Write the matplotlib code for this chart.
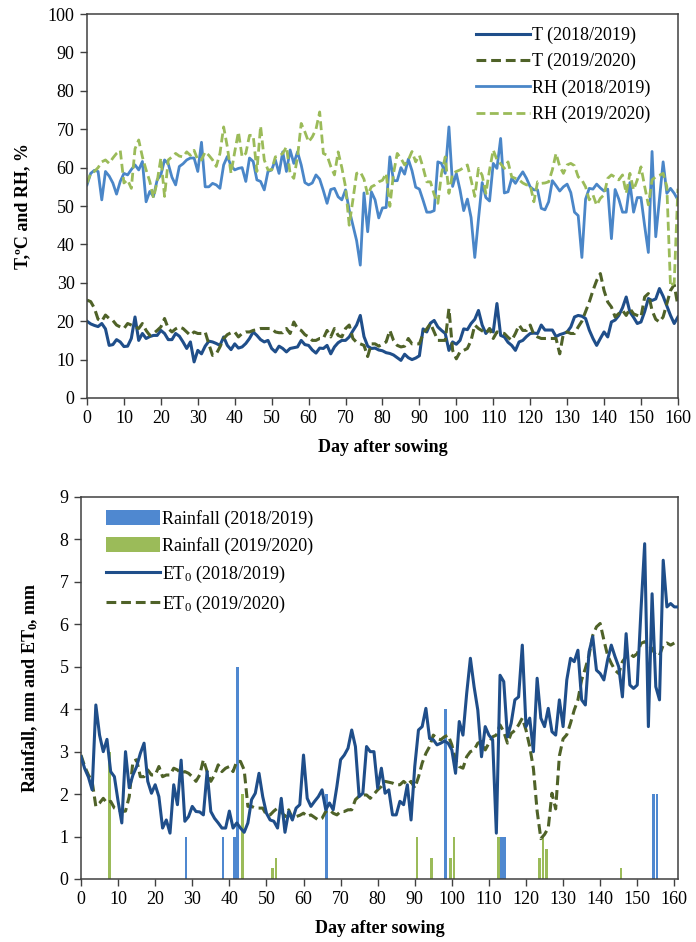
import numpy as np
import matplotlib
matplotlib.use("Agg")
import matplotlib.pyplot as plt

plt.rcParams['font.family'] = ['Liberation Serif', 'DejaVu Serif']
plt.rcParams['mathtext.fontset'] = 'custom'
plt.rcParams['mathtext.rm'] = 'Liberation Serif'
plt.rcParams['mathtext.it'] = 'Liberation Serif:italic'
plt.rcParams['mathtext.bf'] = 'Liberation Serif:bold'

# ---- top panel: daily temperature and relative humidity (day 0..160)
t_2018 = [20.0, 19.3, 18.9, 18.6, 19.4, 18.0, 13.7, 13.9, 15.2, 14.6,
          13.4, 13.5, 15.5, 21.1, 15.0, 16.8, 15.5, 16.0, 16.3, 16.3,
          17.6, 16.8, 15.2, 15.2, 16.8, 16.1, 14.6, 12.9, 14.6, 9.4,
          12.4, 11.5, 13.5, 14.8, 14.6, 14.2, 13.7, 15.9, 13.7, 12.6,
          14.1, 13.0, 13.3, 14.2, 15.5, 17.2, 16.3, 15.2, 14.6, 15.0,
          12.9, 12.0, 13.5, 12.9, 12.0, 12.9, 13.1, 13.3, 15.0, 13.9,
          13.7, 12.5, 11.7, 13.0, 12.9, 13.7, 11.5, 13.3, 14.4, 15.0,
          15.0, 15.9, 17.5, 19.0, 21.5, 16.0, 13.5, 12.9, 13.0, 12.5,
          12.3, 11.8, 11.6, 11.2, 10.5, 9.8, 11.4, 10.5, 10.0, 10.4,
          11.0, 18.0, 17.2, 19.5, 20.2, 18.5, 17.6, 16.8, 12.4, 14.6,
          14.0, 15.0, 18.0, 17.8, 19.4, 20.5, 22.8, 19.0, 16.8, 18.0,
          17.2, 24.6, 16.3, 15.9, 14.5, 13.7, 12.4, 14.6, 15.0, 16.0,
          16.8, 16.9, 16.8, 19.0, 17.7, 17.7, 17.7, 16.0, 16.5, 16.8,
          17.2, 18.5, 21.1, 21.5, 21.3, 20.7, 17.7, 15.5, 13.7, 15.5,
          17.2, 15.9, 19.8, 20.3, 21.5, 23.5, 26.3, 22.4, 21.0, 19.4,
          19.8, 22.5, 25.9, 25.4, 25.8, 28.5, 26.5, 24.0, 21.5, 19.4,
          21.1]

t_2019 = [25.5, 25.1, 23.4, 20.5, 20.0, 21.6, 20.7, 20.2, 19.0, 18.5,
          18.1, 19.4, 19.0, 18.6, 18.1, 19.4, 17.6, 16.3, 16.8, 17.6,
          18.5, 20.7, 18.1, 17.2, 18.0, 18.5, 18.1, 17.2, 16.3, 17.2,
          16.8, 16.8, 17.2, 14.0, 11.1, 11.5, 13.3, 15.5, 16.5, 17.0,
          17.2, 15.9, 16.8, 17.2, 17.2, 17.6, 17.8, 18.1, 18.1, 18.1,
          18.1, 17.2, 17.0, 17.0, 18.1, 16.8, 19.8, 18.1, 17.6, 16.5,
          15.9, 15.0, 15.0, 15.5, 15.5, 17.6, 15.9, 18.1, 16.3, 15.9,
          18.1, 19.0, 15.5, 14.5, 14.1, 13.7, 10.8, 14.1, 14.1, 13.5,
          14.0, 14.6, 17.6, 15.0, 13.7, 13.3, 13.5, 15.5, 14.1, 14.1,
          14.1, 16.8, 18.0, 19.4, 17.2, 15.0, 15.0, 15.0, 23.3, 12.4,
          10.2, 12.0, 12.4, 12.9, 15.0, 19.0, 18.1, 17.5, 16.8, 18.1,
          15.5, 17.2, 17.0, 16.8, 15.8, 15.0, 16.8, 19.0, 17.6, 17.6,
          19.0, 16.5, 15.9, 15.5, 15.5, 15.5, 15.5, 15.5, 11.5, 16.8,
          17.2, 16.8, 16.8, 18.5, 20.0, 22.5, 25.0, 28.0, 30.6, 32.4,
          28.0, 25.0, 23.7, 21.1, 22.0, 22.8, 21.5, 23.3, 21.9, 21.5,
          21.1, 26.3, 27.2, 22.8, 20.5, 19.8, 21.1, 24.5, 28.0, 29.5,
          24.0]

rh_2018 = [55.5, 58.5, 59.3, 59.0, 51.6, 59.0, 57.8, 56.0, 53.1, 56.4,
           58.5, 58.1, 59.5, 60.7, 59.4, 61.6, 51.1, 53.8, 52.5, 56.8,
           58.1, 62.0, 61.0, 57.5, 55.5, 60.3, 61.0, 62.0, 62.5, 62.5,
           59.0, 66.6, 55.0, 55.0, 55.9, 55.5, 54.6, 60.7, 62.9, 60.5,
           59.4, 59.8, 60.0, 56.4, 62.5, 61.6, 56.8, 56.4, 54.2, 59.0,
           59.4, 62.0, 58.5, 64.1, 59.0, 64.6, 61.1, 64.1, 60.7, 56.1,
           55.5, 56.0, 58.1, 57.0, 54.0, 50.7, 54.3, 54.6, 52.4, 51.6,
           54.2, 49.0, 45.0, 41.0, 34.6, 53.4, 43.3, 53.7, 51.6, 46.9,
           49.5, 49.6, 62.8, 56.6, 56.6, 60.0, 58.3, 62.2, 59.2, 54.9,
           54.4, 51.5, 48.4, 48.4, 48.8, 61.5, 61.1, 58.5, 70.6, 55.1,
           58.5, 54.2, 48.8, 51.8, 47.0, 36.6, 46.6, 56.1, 52.2, 51.3,
           61.1, 59.8, 67.6, 53.4, 53.7, 57.2, 55.9, 57.5, 58.9, 57.2,
           55.0, 54.2, 54.2, 49.4, 49.0, 51.1, 56.6, 55.3, 53.9, 55.0,
           55.7, 53.5, 48.4, 47.5, 36.6, 51.8, 54.6, 54.4, 55.7, 54.7,
           53.9, 54.4, 41.5, 54.3, 51.8, 48.4, 48.4, 56.1, 48.4, 52.2,
           52.2, 44.8, 37.9, 64.2, 42.0, 51.8, 61.5, 53.3, 54.6, 53.3,
           51.6]

rh_2019 = [56.0, 58.5, 59.0, 60.0, 61.5, 62.0, 61.1, 62.5, 63.7, 64.5,
           56.0, 56.8, 54.6, 64.9, 67.2, 62.8, 59.4, 56.4, 52.1, 56.4,
           62.5, 52.5, 62.0, 62.8, 63.7, 63.0, 62.8, 64.1, 63.2, 64.5,
           62.0, 62.0, 64.1, 63.2, 62.0, 60.3, 63.7, 70.6, 65.4, 58.5,
           64.1, 69.3, 62.8, 63.7, 68.4, 68.4, 59.0, 70.8, 62.0, 59.4,
           59.4, 62.8, 63.0, 63.7, 65.4, 58.5, 57.2, 62.8, 71.5, 69.3,
           66.7, 68.0, 70.0, 74.5, 63.7, 63.2, 60.3, 58.1, 64.1, 60.0,
           55.0, 45.0, 51.6, 58.5, 58.9, 57.0, 52.9, 55.0, 55.5, 56.3,
           56.7, 58.5, 49.9, 58.5, 63.7, 62.4, 60.7, 62.0, 64.2, 61.5,
           63.2, 60.0, 56.3, 56.3, 53.0, 50.7, 58.5, 62.8, 53.3, 58.5,
           59.0, 59.4, 60.0, 60.7, 56.8, 52.5, 59.8, 58.0, 53.3, 59.4,
           64.6, 62.0, 61.0, 59.8, 61.5, 57.6, 57.2, 56.8, 56.0, 55.5,
           55.5, 51.1, 56.3, 55.9, 56.0, 56.3, 59.4, 63.7, 60.3, 58.5,
           60.7, 61.1, 60.5, 57.6, 56.8, 55.0, 51.6, 52.9, 50.2, 52.0,
           52.9, 57.2, 58.1, 57.5, 56.8, 58.1, 53.3, 58.5, 54.2, 56.8,
           60.2, 55.1, 50.3, 56.8, 57.6, 58.0, 58.5, 55.1, 29.0, 30.0,
           54.5]

# ---- bottom panel: reference evapotranspiration (ET0) and rainfall
et0_2018 = [2.88, 2.60, 2.40, 2.10, 4.10, 3.39, 3.00, 3.29, 2.53, 2.41,
            1.83, 1.32, 3.00, 2.15, 2.45, 2.65, 2.96, 3.20, 2.30, 2.02,
            2.22, 1.94, 1.20, 1.39, 1.08, 2.22, 1.75, 2.80, 1.36, 1.47,
            1.71, 1.59, 1.58, 1.51, 2.53, 1.59, 1.43, 1.32, 1.20, 1.20,
            1.60, 1.20, 1.32, 1.20, 1.10, 1.32, 1.87, 2.02, 2.49, 1.94,
            1.55, 1.39, 1.36, 1.20, 1.90, 1.10, 1.59, 1.39, 1.67, 1.75,
            2.92, 1.90, 1.71, 1.83, 1.94, 2.10, 1.63, 1.79, 1.63, 2.18,
            2.81, 2.92, 3.08, 3.51, 3.12, 1.94, 2.02, 3.12, 3.00, 3.00,
            2.14, 2.61, 2.02, 2.10, 1.51, 1.51, 1.83, 1.75, 2.22, 1.39,
            2.65, 3.51, 3.59, 4.02, 3.31, 3.28, 3.16, 3.20, 3.25, 3.20,
            3.04, 2.49, 3.71, 3.39, 4.37, 5.20, 4.53, 3.98, 2.88, 3.59,
            3.39, 3.28, 1.08, 4.80, 4.65, 3.35, 3.67, 4.22, 4.29, 5.51,
            3.59, 3.79, 3.00, 4.73, 3.79, 3.59, 4.02, 3.47, 3.39, 4.22,
            3.59, 4.69, 5.20, 5.12, 5.39, 4.22, 4.10, 5.35, 5.71, 4.92,
            4.84, 4.69, 5.16, 5.51, 5.24, 5.00, 4.29, 5.78, 4.57, 4.49,
            4.57, 6.33, 7.90, 3.59, 6.72, 4.53, 4.22, 7.51, 6.41, 6.49,
            6.41, 6.41]

et0_2019 = [2.92, 2.65, 2.45, 2.30, 1.71, 1.79, 1.90, 1.79, 1.83, 1.67,
            1.63, 1.59, 1.60, 1.94, 2.77, 2.81, 2.41, 2.41, 2.57, 2.45,
            2.45, 2.65, 2.41, 2.45, 2.45, 2.61, 2.57, 2.49, 2.53, 2.49,
            2.41, 2.30, 2.45, 2.81, 2.53, 2.30, 2.45, 2.69, 2.53, 2.61,
            2.65, 2.53, 2.77, 2.77, 2.57, 1.71, 1.71, 1.67, 1.67, 1.67,
            1.51, 1.51, 1.60, 1.67, 1.59, 1.47, 1.63, 1.43, 1.47, 1.50,
            1.55, 1.47, 1.51, 1.45, 1.39, 1.43, 1.59, 1.63, 1.55, 1.51,
            1.59, 1.59, 1.63, 1.63, 1.87, 1.95, 1.98, 1.98, 1.90, 2.00,
            2.10, 2.18, 2.30, 2.28, 2.26, 2.22, 2.22, 2.30, 2.22, 2.30,
            2.14, 2.40, 2.73, 2.96, 3.12, 3.39, 3.31, 3.28, 3.35, 3.39,
            3.16, 2.81, 2.65, 2.61, 2.88, 3.00, 3.04, 3.20, 3.24, 3.04,
            3.20, 3.35, 3.39, 3.63, 3.47, 3.20, 3.43, 3.50, 3.63, 3.79,
            3.51, 3.12, 2.60, 1.60, 0.95, 1.05, 1.20, 2.02, 1.65, 2.90,
            3.30, 3.40, 3.67, 3.98, 4.22, 4.69, 4.96, 5.27, 5.74, 5.94,
            6.02, 5.63, 5.27, 5.08, 4.92, 4.84, 5.12, 5.24, 5.31, 5.24,
            5.31, 5.55, 5.59, 5.51, 5.43, 5.27, 5.27, 5.51, 5.56, 5.51,
            5.56]

rain_2018_days = [28, 38, 41, 42, 66, 98, 113, 114, 154, 155]
rain_2018_mm = [1.0, 1.0, 1.0, 5.0, 2.0, 4.0, 1.0, 1.0, 2.0, 2.0]
rain_2019_days = [7, 43, 51, 52, 90, 94, 99, 100, 112, 123, 124, 125, 145]
rain_2019_mm = [3.0, 2.0, 0.25, 0.5, 1.0, 0.5, 0.5, 1.0, 1.0, 0.5, 1.0, 0.7, 0.25]

navy = '#1f4e8a'
olive = '#4f6228'
mid_blue = '#4a86c8'
light_green = '#9bbb59'
bar_blue = '#4f88d0'
axis_col = '#404040'
FS = 13


def style_axes(ax):
    for s in ax.spines.values():
        s.set_color(axis_col)
        s.set_linewidth(1.1)
    ax.tick_params(direction='out', length=5, width=1.0, color=axis_col,
                   labelsize=FS, pad=4)


fig = plt.figure(figsize=(6.96, 9.42), dpi=100)

# ---------------- top chart
ax1 = fig.add_axes([0.125, 0.5775, 0.849, 0.4076])
days = np.arange(len(t_2018))
ax1.plot(days, t_2018, color=navy, lw=2.2, label='T (2018/2019)')
ax1.plot(days, t_2019, color=olive, lw=2.2, ls=(0, (3.2, 1.6)), label='T (2019/2020)')
ax1.plot(days, rh_2018, color=mid_blue, lw=2.0, label='RH (2018/2019)')
ax1.plot(days, rh_2019, color=light_green, lw=2.0, ls=(0, (3.2, 1.6)), label='RH (2019/2020)')
ax1.set_xlim(0, 160)
ax1.set_ylim(0, 100)
ax1.set_xticks(np.arange(0, 161, 10))
ax1.set_yticks(np.arange(0, 101, 10))
style_axes(ax1)
ax1.set_xlabel('Day after sowing', fontsize=FS, fontweight='bold', labelpad=8)
ax1.set_ylabel('T,ºC and RH, %', fontsize=FS, fontweight='bold', labelpad=12)
ax1.legend(loc='upper right', frameon=False, fontsize=13, handlelength=3.0,
           handletextpad=0.1, labelspacing=0.5, borderaxespad=0.3,
           bbox_to_anchor=(0.975, 1.0))

# ---------------- bottom chart
ax2 = fig.add_axes([0.1164, 0.0669, 0.8578, 0.4055])
b1 = ax2.bar(np.array(rain_2018_days) + 0.3, rain_2018_mm, width=0.75, color=bar_blue,
             label='Rainfall (2018/2019)', zorder=1)
b2 = ax2.bar(np.array(rain_2019_days) + 0.6, rain_2019_mm, width=0.75, color=light_green,
             label='Rainfall (2019/2020)', zorder=1)
l1, = ax2.plot(np.arange(len(et0_2018)), et0_2018, color=navy, lw=2.2,
               label='ET$_0$ (2018/2019)', zorder=3)
l2, = ax2.plot(np.arange(len(et0_2019)), et0_2019, color=olive, lw=2.2, ls=(0, (3.2, 1.6)),
               label='ET$_0$ (2019/2020)', zorder=2)
ax2.set_xlim(0, 161)
ax2.set_ylim(0, 9)
ax2.set_xticks(np.arange(0, 161, 10))
ax2.set_yticks(np.arange(0, 10, 1))
style_axes(ax2)
ax2.set_xlabel('Day after sowing', fontsize=FS, fontweight='bold', labelpad=8)
ax2.set_ylabel(r'Rainfall, mm and ET$_\mathbf{0}$, mm', fontsize=FS,
               fontweight='bold', labelpad=14)
ax2.legend(handles=[b1, b2, l1, l2], loc='upper left', frameon=False, fontsize=13,
           handlelength=3.0, handleheight=0.9, handletextpad=0.1, labelspacing=0.5,
           borderaxespad=0.3, bbox_to_anchor=(0.02, 1.0))

fig.savefig('out.png', dpi=100)
